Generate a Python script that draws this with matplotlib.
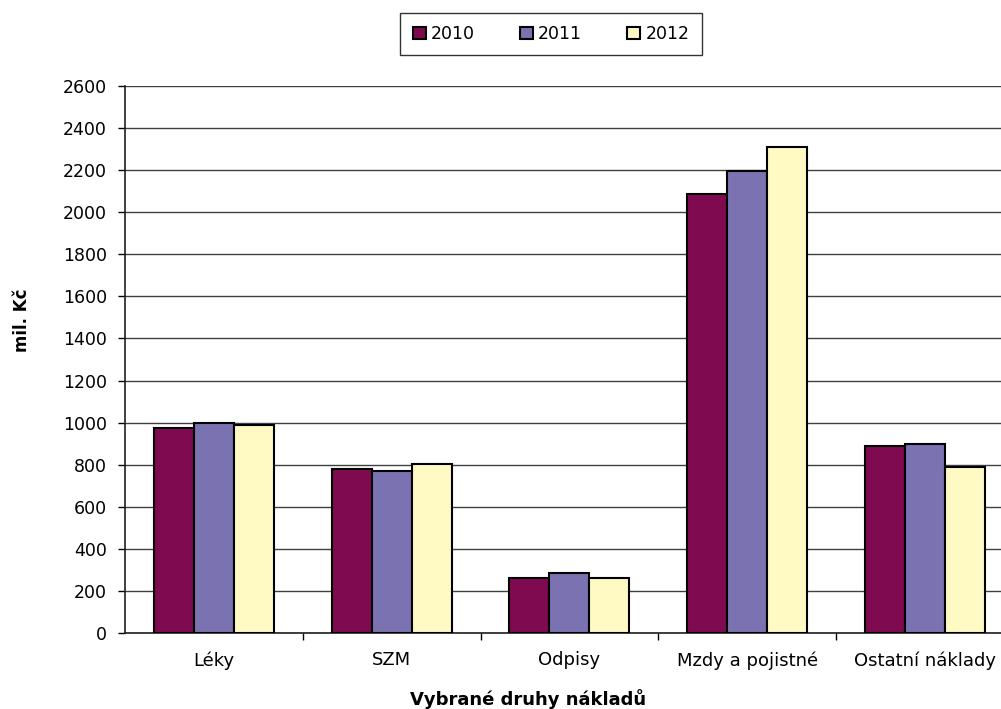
import numpy as np
import matplotlib.pyplot as plt

# data
kategorie = ["Léky", "SZM", "Odpisy", "Mzdy a pojistné", "Ostatní náklady"]
roky = ["2010", "2011", "2012"]
h2010 = [975, 780, 260, 2085, 890]
h2011 = [1000, 770, 285, 2195, 900]
h2012 = [990, 805, 260, 2310, 790]
barvy = ["#7f0a50", "#7b72b2", "#fff9c4"]

plt.rcParams['font.family'] = ['DejaVu Sans']

fig = plt.figure(figsize=(10.01, 7.09), dpi=100)
ax = fig.add_axes([124.9 / 1001, 76 / 709, 889 / 1001, 547 / 709])

x = np.arange(len(kategorie))
w = 0.225
for i, (vals, rok) in enumerate(zip([h2010, h2011, h2012], roky)):
    ax.bar(x + (i - 1) * w, vals, width=w, color=barvy[i], edgecolor="black",
           linewidth=1.5, label=rok, zorder=3)

ax.set_xlim(-0.5, len(kategorie) - 0.5)
ax.set_ylim(0, 2600)
ax.set_yticks(np.arange(0, 2601, 200))
ax.set_xticks(x)
ax.set_xticklabels(kategorie, fontsize=13)
ax.set_xticks(np.arange(0.5, len(kategorie) - 0.5, 1), minor=True)
ax.tick_params(axis="x", which="major", length=0, pad=13)
ax.tick_params(axis="x", which="minor", length=5, width=1, direction="out")
ax.tick_params(axis="y", length=5, width=1, direction="out", labelsize=12.5, pad=8)

ax.grid(axis="y", color="#404040", linewidth=1, zorder=0)
for s in ["top", "right"]:
    ax.spines[s].set_visible(False)
ax.spines["left"].set_linewidth(1.2)
ax.spines["bottom"].set_linewidth(1.2)
ax.spines["left"].set_color("#202020")
ax.spines["bottom"].set_color("#202020")

fig.text(22 / 1001, 1 - 320 / 709, "mil. Kč", rotation=90, fontsize=12,
         fontweight="bold", ha="center", va="center")
fig.text(528 / 1001, 1 - 699 / 709, "Vybrané druhy nákladů", fontsize=13,
         fontweight="bold", ha="center", va="center")

leg = fig.legend(loc="center", bbox_to_anchor=(551 / 1001, 1 - 34 / 709), ncol=3,
                 frameon=True, fancybox=False, edgecolor="black", fontsize=12.5,
                 handlelength=0.75, handleheight=0.75, handletextpad=0.3,
                 columnspacing=2.6, borderpad=0.7)
leg.get_frame().set_linewidth(1)

fig.savefig("out.png", dpi=100)
